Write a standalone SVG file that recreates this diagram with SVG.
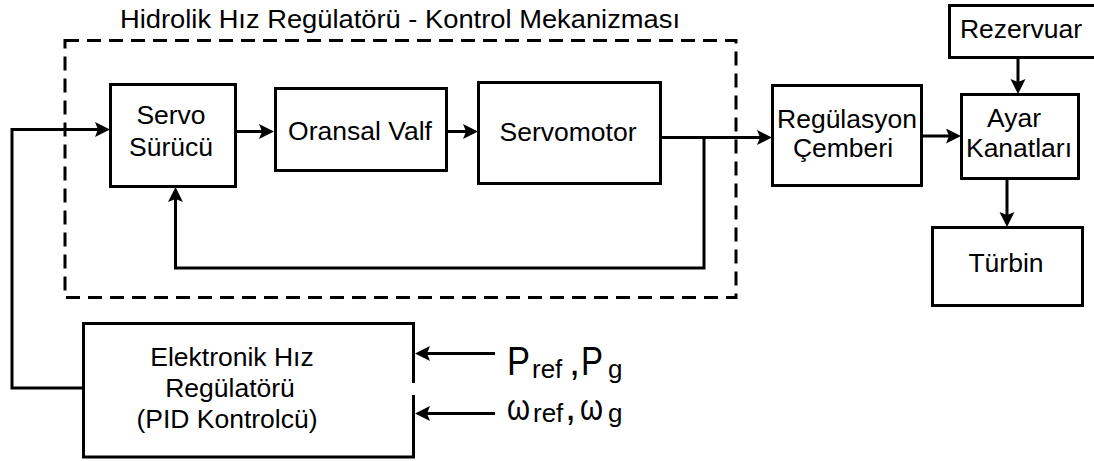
<svg xmlns="http://www.w3.org/2000/svg" width="1094" height="461" viewBox="0 0 1094 461">
<style>
  .box { fill: #fff; stroke: #000; stroke-width: 3; }
  .lbl { font-family: "Liberation Sans", Arial, sans-serif; font-size: 26.5px; fill: #000; text-anchor: middle; }
  .big { font-family: "Liberation Sans", Arial, sans-serif; font-size: 40px; fill: #000; }
  .sub { font-size: 26px; }
  .om { font-size: 36px; }
  .conn { fill: none; stroke: #000; stroke-width: 3; }
  .dash { fill: none; stroke: #000; stroke-width: 3; stroke-dasharray: 14 8; }
</style>
<defs>
  <marker id="arr" markerUnits="userSpaceOnUse" markerWidth="16" markerHeight="16" refX="5" refY="7.5" orient="auto">
    <path d="M0,0 L15,7.5 L0,15 L3,7.5 Z" fill="#000"/>
  </marker>
</defs>
<rect width="1094" height="461" fill="#fff"/>

<g id="group-hidrolik">
  <rect class="dash" x="65" y="40.5" width="671" height="257"/>
  <text class="lbl" x="400" y="28" font-size="27" textLength="560" lengthAdjust="spacingAndGlyphs">Hidrolik Hız Regülatörü - Kontrol Mekanizması</text>
</g>

<g id="connectors">
  <path class="conn" d="M83,388 H12 V129.5 H100" marker-end="url(#arr)"/>
  <path class="conn" d="M235,131.5 H264" marker-end="url(#arr)"/>
  <path class="conn" d="M446,131.5 H468" marker-end="url(#arr)"/>
  <path class="conn" d="M660,137.5 H762" marker-end="url(#arr)"/>
  <path class="conn" d="M704,137.5 V268 H175.5 V197" marker-end="url(#arr)"/>
  <path class="conn" d="M922,136 H951" marker-end="url(#arr)"/>
  <path class="conn" d="M1018,57 V84" marker-end="url(#arr)"/>
  <path class="conn" d="M1007,178 V217" marker-end="url(#arr)"/>
  <path class="conn" d="M495,353.5 H425" marker-end="url(#arr)"/>
  <path class="conn" d="M495,413.5 H425" marker-end="url(#arr)"/>
</g>

<g id="servo-surucu">
  <rect class="box" x="110.5" y="84.5" width="125" height="102"/>
  <text class="lbl" x="171" y="124">Servo</text>
  <text class="lbl" x="171" y="156">Sürücü</text>
</g>

<g id="oransal-valf">
  <rect class="box" x="275.5" y="88.5" width="171" height="82"/>
  <text class="lbl" x="360" y="140">Oransal Valf</text>
</g>

<g id="servomotor">
  <rect class="box" x="478.5" y="82.5" width="182" height="101"/>
  <text class="lbl" x="568" y="141">Servomotor</text>
</g>

<g id="regulasyon-cemberi">
  <rect class="box" x="772.5" y="85.5" width="149" height="100"/>
  <text class="lbl" x="847" y="128">Regülasyon</text>
  <text class="lbl" x="843" y="157">Çemberi</text>
</g>

<g id="rezervuar">
  <rect class="box" x="949.5" y="5.5" width="150" height="52"/>
  <text class="lbl" x="1021" y="38">Rezervuar</text>
</g>

<g id="ayar-kanatlari">
  <rect class="box" x="961.5" y="94.5" width="117" height="84"/>
  <text class="lbl" x="1014" y="127">Ayar</text>
  <text class="lbl" x="1019" y="157" font-size="27">Kanatları</text>
</g>

<g id="turbin">
  <rect class="box" x="932.5" y="227.5" width="150" height="78"/>
  <text class="lbl" x="1006" y="272">Türbin</text>
</g>

<g id="elektronik-hiz-regulatoru">
  <path class="box" d="M413.5,383 V323.5 H83.5 V457 H413.5 V395"/>
  <text class="lbl" x="232" y="366" font-size="27">Elektronik Hız</text>
  <text class="lbl" x="230" y="397" font-size="27">Regülatörü</text>
  <text class="lbl" x="227" y="428" font-size="27">(PID Kontrolcü)</text>
</g>

<g id="inputs">
  <text class="big" y="375"><tspan x="507" textLength="23" lengthAdjust="spacingAndGlyphs">P</tspan><tspan class="sub" x="532" y="378">ref</tspan><tspan x="569" y="375">,</tspan><tspan x="581" textLength="22" lengthAdjust="spacingAndGlyphs">P</tspan><tspan class="sub" x="608" y="378">g</tspan></text>
  <text class="big" y="420"><tspan class="om" x="507" textLength="23" lengthAdjust="spacingAndGlyphs">ω</tspan><tspan class="sub" x="533" y="422">ref</tspan><tspan x="565" y="420">,</tspan><tspan class="om" x="580" textLength="23" lengthAdjust="spacingAndGlyphs">ω</tspan><tspan class="sub" x="608" y="422">g</tspan></text>
</g>
</svg>
